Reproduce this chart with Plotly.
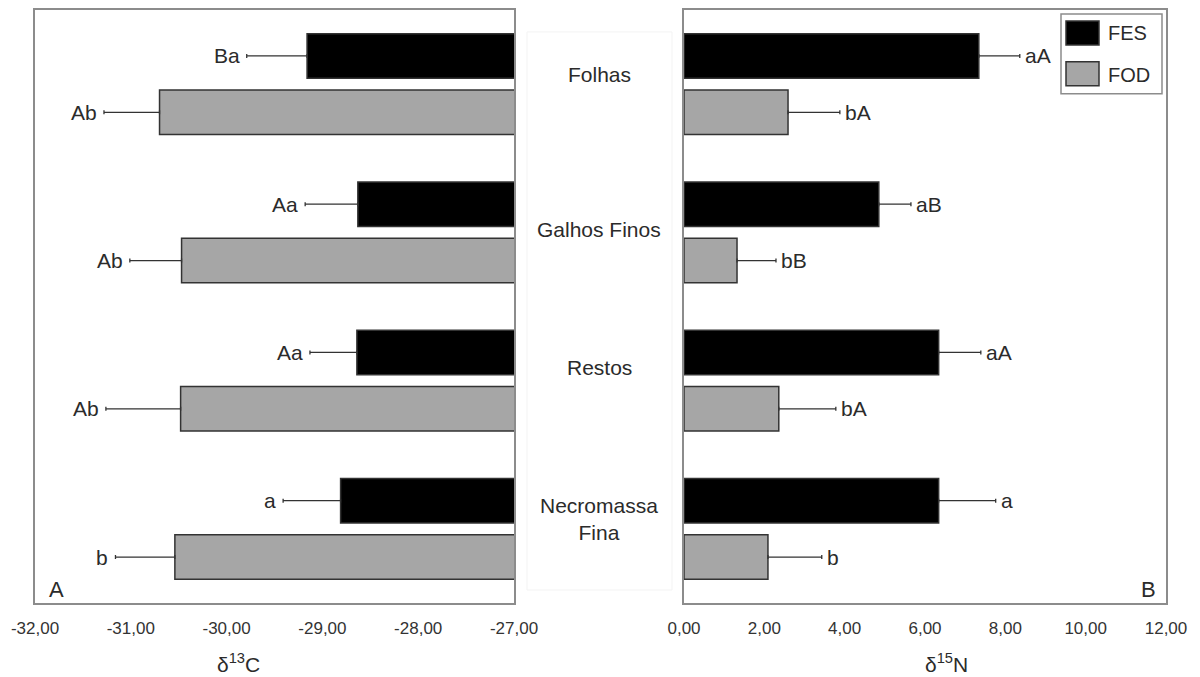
import plotly.graph_objects as go
import numpy as np

# ---------------- data ----------------
categories = ["Folhas", "Galhos Finos", "Restos", "Necromassa<br>Fina"]
series = ["FES", "FOD"]

d13c_fes = [-29.16, -28.63, -28.64, -28.81]
d13c_fes_err = [0.63, 0.55, 0.49, 0.60]
d13c_fod = [-30.70, -30.47, -30.48, -30.54]
d13c_fod_err = [0.58, 0.54, 0.78, 0.62]

d15n_fes = [7.34, 4.85, 6.34, 6.34]
d15n_fes_err = [1.02, 0.80, 1.05, 1.42]
d15n_fod = [2.59, 1.32, 2.36, 2.09]
d15n_fod_err = [1.29, 0.97, 1.42, 1.34]

d13c_fes_lbl = ["Ba", "Aa", "Aa", "a"]
d13c_fod_lbl = ["Ab", "Ab", "Ab", "b"]
d15n_fes_lbl = ["aA", "aB", "aA", "a"]
d15n_fod_lbl = ["bA", "bB", "bA", "b"]

d13c_ticks = [-32, -31, -30, -29, -28, -27]
d15n_ticks = [0, 2, 4, 6, 8, 10, 12]

# ---------------- style ----------------
W, H = 1200, 677
ML, MR, MT, MB = 35, 34, 8, 74
PW, PH = W - ML - MR, H - MT - MB
FONT = "Arial, Liberation Sans, sans-serif"
C_FES = "#000000"
C_FOD = "#a6a6a6"
EDGE = "#333333"
FRAME = "#8c8c8c"
TXT = "#2b2b2b"
OFF = 0.19
BW = 0.30
LBL_SIZE = 21
CAT_YSHIFT = [10, 3, 13, 10]


def px_x(px):
    return (px - ML) / PW


def px_y(py):
    return (H - MB - py) / PH


def fmt(v):
    return f"{v:.2f}".replace(".", ",")


idx = np.arange(len(categories))
y_fes = idx - OFF
y_fod = idx + OFF

fig = go.Figure()
annotations = []

# Left panel (d13C)
for vals, errs, lbls, ypos, col in [
    (d13c_fes, d13c_fes_err, d13c_fes_lbl, y_fes, C_FES),
    (d13c_fod, d13c_fod_err, d13c_fod_lbl, y_fod, C_FOD),
]:
    fig.add_trace(go.Bar(
        x=vals, y=ypos, orientation="h", width=BW,
        marker=dict(color=col, line=dict(color=EDGE, width=1.5)),
        error_x=dict(type="data", symmetric=False, array=[0] * len(vals),
                     arrayminus=errs, color=EDGE, thickness=1.3, width=2),
        xaxis="x", yaxis="y", showlegend=False, hoverinfo="skip",
    ))
    for v, e, t, yy in zip(vals, errs, lbls, ypos):
        annotations.append(dict(x=v - e, y=yy, xref="x", yref="y", text=t,
                                showarrow=False, xanchor="right", yanchor="middle",
                                xshift=-5, font=dict(family=FONT, size=LBL_SIZE, color=TXT)))

# Right panel (d15N)
for vals, errs, lbls, ypos, col in [
    (d15n_fes, d15n_fes_err, d15n_fes_lbl, y_fes, C_FES),
    (d15n_fod, d15n_fod_err, d15n_fod_lbl, y_fod, C_FOD),
]:
    fig.add_trace(go.Bar(
        x=vals, y=ypos, orientation="h", width=BW,
        marker=dict(color=col, line=dict(color=EDGE, width=1.5)),
        error_x=dict(type="data", symmetric=False, array=errs,
                     arrayminus=[0] * len(vals), color=EDGE, thickness=1.3, width=2),
        xaxis="x2", yaxis="y2", showlegend=False, hoverinfo="skip",
    ))
    for v, e, t, yy in zip(vals, errs, lbls, ypos):
        annotations.append(dict(x=v + e, y=yy, xref="x2", yref="y2", text=t,
                                showarrow=False, xanchor="left", yanchor="middle",
                                xshift=3, font=dict(family=FONT, size=LBL_SIZE, color=TXT)))

axis_common = dict(showline=True, mirror=True, linecolor=FRAME, linewidth=1.5,
                   showgrid=False, zeroline=False, ticks="",
                   tickfont=dict(family=FONT, size=17, color="#333333"),
                   ticklabelstandoff=9)

fig.update_layout(
    width=W, height=H,
    margin=dict(l=ML, r=MR, t=MT, b=MB),
    paper_bgcolor="white", plot_bgcolor="white",
    barmode="overlay",
    font=dict(family=FONT, color=TXT),
    xaxis=dict(domain=[0, px_x(514)], range=[d13c_ticks[0], d13c_ticks[-1]],
               tickvals=d13c_ticks, ticktext=[fmt(t) for t in d13c_ticks],
               anchor="y", **axis_common),
    yaxis=dict(domain=[0, 1], range=[len(categories) - 0.5, -0.5], anchor="x",
               showline=True, mirror=True, linecolor=FRAME, linewidth=1.5,
               showgrid=False, zeroline=False, showticklabels=False, ticks=""),
    xaxis2=dict(domain=[px_x(684), 1], range=[d15n_ticks[0], d15n_ticks[-1]],
                tickvals=d15n_ticks, ticktext=[fmt(t) for t in d15n_ticks],
                anchor="y2", **axis_common),
    yaxis2=dict(domain=[0, 1], range=[len(categories) - 0.5, -0.5], anchor="x2",
                showline=True, mirror=True, linecolor=FRAME, linewidth=1.5,
                showgrid=False, zeroline=False, showticklabels=False, ticks=""),
    showlegend=False,
)

# category labels in the middle
for i, (c, ys) in enumerate(zip(categories, CAT_YSHIFT)):
    annotations.append(dict(x=px_x(599), xref="paper", y=i, yref="y", text=c,
                            showarrow=False, yshift=ys, xanchor="center", yanchor="middle",
                            font=dict(family=FONT, size=21, color=TXT)))
# axis titles
annotations.append(dict(x=px_x(238), y=px_y(663), xref="paper", yref="paper",
                        text="δ<sup>13</sup>C", showarrow=False,
                        xanchor="center", yanchor="middle",
                        font=dict(family=FONT, size=21, color=TXT)))
annotations.append(dict(x=px_x(946), y=px_y(663), xref="paper", yref="paper",
                        text="δ<sup>15</sup>N", showarrow=False,
                        xanchor="center", yanchor="middle",
                        font=dict(family=FONT, size=21, color=TXT)))
# panel letters
annotations.append(dict(x=px_x(56), y=px_y(589), xref="paper", yref="paper",
                        text="A", showarrow=False, xanchor="center", yanchor="middle",
                        font=dict(family=FONT, size=22, color=TXT)))
annotations.append(dict(x=px_x(1148), y=px_y(589), xref="paper", yref="paper",
                        text="B", showarrow=False, xanchor="center", yanchor="middle",
                        font=dict(family=FONT, size=22, color=TXT)))
# legend texts
for name, py in zip(series, [31, 73]):
    annotations.append(dict(x=px_x(1106), y=px_y(py), xref="paper", yref="paper",
                            text=name, showarrow=False, xanchor="left", yanchor="middle",
                            font=dict(family=FONT, size=20, color=TXT)))

shapes = [
    # faint middle box
    dict(type="rect", xref="paper", yref="paper", x0=px_x(527), x1=px_x(672),
         y0=px_y(590), y1=px_y(30), line=dict(color="#f3f3f3", width=1)),
    # legend box
    dict(type="rect", xref="paper", yref="paper", x0=px_x(1061), x1=px_x(1162),
         y0=px_y(92), y1=px_y(12), line=dict(color=FRAME, width=1.5),
         fillcolor="white"),
]
for col, (t, b) in zip([C_FES, C_FOD], [(19, 43), (60, 84)]):
    shapes.append(dict(type="rect", xref="paper", yref="paper",
                       x0=px_x(1066), x1=px_x(1099), y0=px_y(b), y1=px_y(t),
                       fillcolor=col, line=dict(color=EDGE, width=1.5)))

fig.update_layout(annotations=annotations, shapes=shapes)

fig.write_html("out.html")
